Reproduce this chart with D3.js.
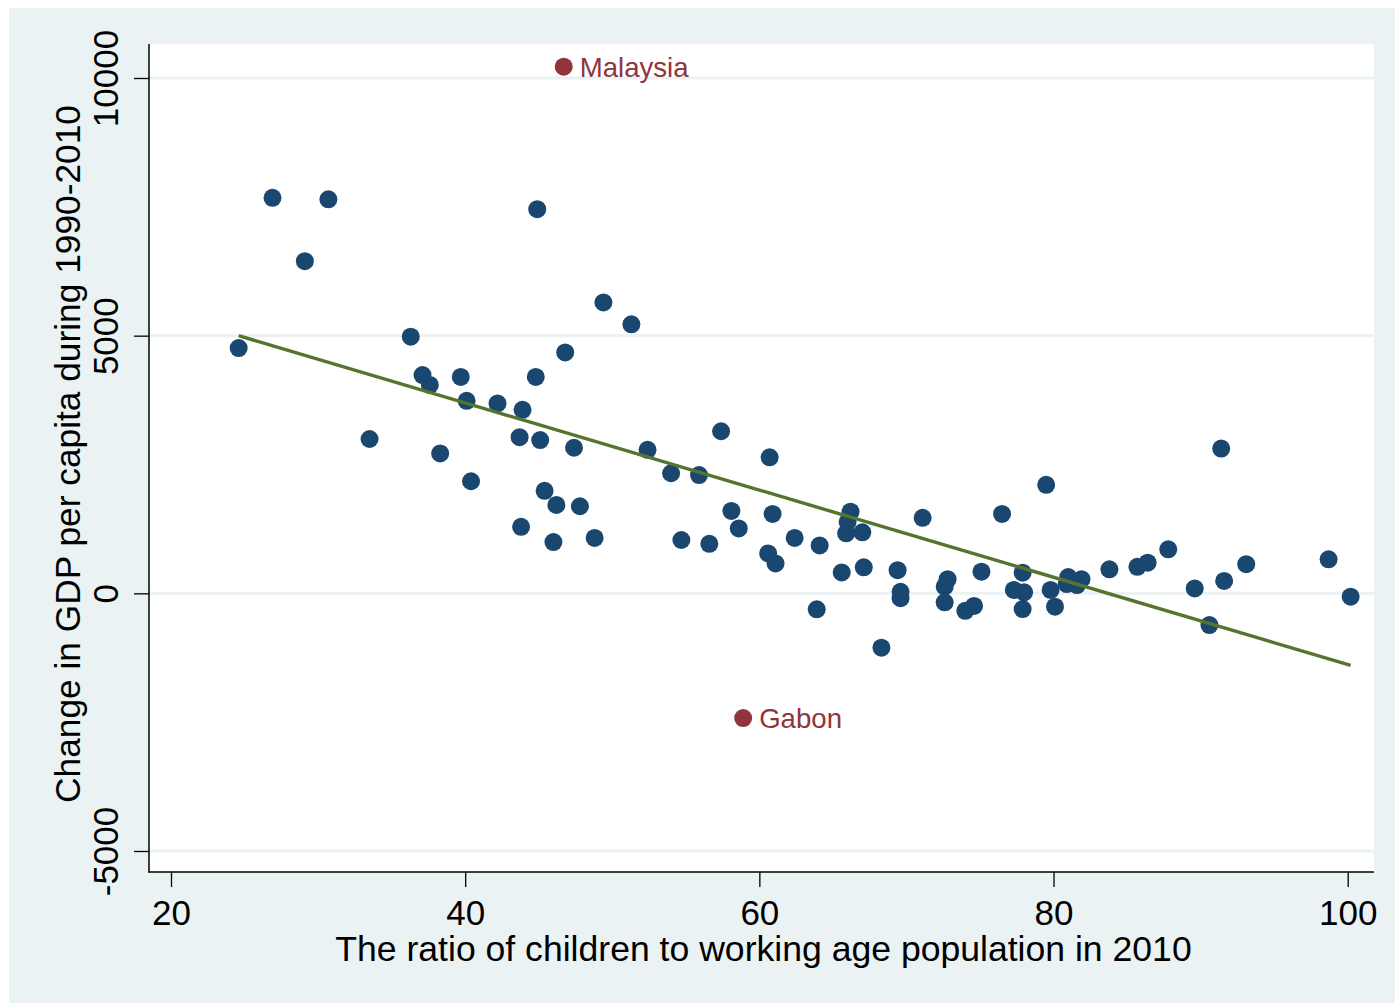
<!DOCTYPE html>
<html>
<head>
<meta charset="utf-8">
<script src="https://cdn.jsdelivr.net/npm/d3@7"></script>
<style>
  html, body { margin: 0; padding: 0; background: #ffffff; }
  svg { display: block; font-family: "Liberation Sans", Arial, Helvetica, sans-serif; }
</style>
</head>
<body>
<svg id="chart" width="1395" height="1003"></svg>
<script>
// Ratio of children to working-age population (2010) for each country
const childRatio = [
  24.6, 26.9, 30.7, 29.1, 36.3, 37.1, 37.6, 39.7, 40.1, 33.5,
  38.3, 40.4, 44.9, 49.4, 51.3, 46.8, 44.8, 42.2, 43.9, 43.7,
  45.1, 47.4, 52.4, 45.4, 46.2, 47.8, 43.8, 46.0, 48.8, 57.4,
  54.0, 55.9, 60.7, 58.1, 58.6, 60.9, 54.7, 56.6, 62.4, 64.1,
  60.6, 61.1, 66.2, 66.0, 65.9, 67.0, 65.6, 67.1, 63.9, 68.3,
  69.4, 69.6, 69.6, 71.1, 76.5, 79.5, 72.8, 72.6, 72.6, 74.0,
  74.6, 75.1, 77.9, 77.3, 78.0, 77.9, 79.8, 80.1, 81.0, 80.9,
  81.6, 81.9, 83.8, 85.7, 86.4, 87.8, 91.4, 89.6, 90.6, 91.6,
  93.1, 98.7, 100.2
];
// Change in GDP per capita, 1990-2010
const gdpChange = [
  4760, 7675, 7645, 6445, 4980, 4235, 4045, 4200, 3735, 2995,
  2715, 2175, 7455, 5645, 5220, 4675, 4200, 3685, 3560, 3030,
  2975, 2825, 2785, 1990, 1715, 1690, 1290, 995, 1075, 3145,
  2330, 2295, 2640, 1600, 1260, 1540, 1035, 960, 1075, 930,
  775, 580, 1585, 1385, 1165, 1185, 405, 505, -310, -1055,
  450, 30, -95, 1465, 1540, 2105, 275, 130, -175, -340,
  -245, 420, 400, 65, 20, -305, 65, -260, 315, 180,
  160, 275, 465, 515, 595, 855, 2810, 95, -615, 240,
  565, 660, -65
];

// Countries singled out with a label
const labeledNames = ["Malaysia", "Gabon"];
const labeledRatio = [46.7, 58.9];
const labeledGdp = [10220, -2420];

// Linear fit of GDP change on the child ratio
const fitIntercept = 7080;
const fitSlope = -84.6;

// Axis ticks
const xTicks = [20, 40, 60, 80, 100];
const yTicks = [-5000, 0, 5000, 10000];

const navy = "#1a476f";
const maroon = "#90353b";
const olive = "#55752f";
const gridBlue = "#eaf2f3";

const svg = d3.select("#chart");

// Outer graph region
svg.append("rect")
  .attr("x", 9).attr("y", 8)
  .attr("width", 1386).attr("height", 995)
  .attr("fill", gridBlue);

// Plot region
const plot = { left: 149, right: 1374, top: 44, bottom: 872 };
svg.append("rect")
  .attr("x", plot.left).attr("y", plot.top)
  .attr("width", plot.right - plot.left).attr("height", plot.bottom - plot.top)
  .attr("fill", "#ffffff");

const x = d3.scaleLinear().domain([20, 100]).range([171, 1347.7]);
const y = d3.scaleLinear().domain([-5000, 10000]).range([851, 78]);

// Horizontal gridlines
svg.append("g")
  .selectAll("line")
  .data(yTicks)
  .join("line")
  .attr("x1", plot.left).attr("x2", plot.right)
  .attr("y1", d => y(d)).attr("y2", d => y(d))
  .attr("stroke", gridBlue)
  .attr("stroke-width", 3);

const plainNumber = d => String(d);

// X axis
const xAxis = svg.append("g")
  .attr("transform", `translate(0,${plot.bottom})`)
  .call(d3.axisBottom(x).tickValues(xTicks).tickSize(15).tickPadding(13.2).tickFormat(plainNumber));
xAxis.select(".domain").remove();
xAxis.selectAll(".tick line").attr("stroke", "#000").attr("stroke-width", 1.3);
xAxis.selectAll(".tick text")
  .attr("font-size", 35)
  .attr("fill", "#000")
  .style("font-family", "'Liberation Sans', Arial, sans-serif");

// Y axis with rotated tick labels
const yAxis = svg.append("g")
  .attr("transform", `translate(${plot.left},0)`)
  .call(d3.axisLeft(y).tickValues(yTicks).tickSize(15).tickFormat(plainNumber));
yAxis.select(".domain").remove();
yAxis.selectAll(".tick line").attr("stroke", "#000").attr("stroke-width", 1.3);
yAxis.selectAll(".tick text")
  .attr("transform", "rotate(-90)")
  .attr("x", 0)
  .attr("y", -31)
  .attr("dy", null)
  .attr("text-anchor", "middle")
  .attr("font-size", 35)
  .attr("fill", "#000")
  .style("font-family", "'Liberation Sans', Arial, sans-serif");

// Axis lines
svg.append("line")
  .attr("x1", plot.left).attr("x2", plot.left)
  .attr("y1", plot.top).attr("y2", plot.bottom + 0.7)
  .attr("stroke", "#000").attr("stroke-width", 1.5);
svg.append("line")
  .attr("x1", plot.left).attr("x2", plot.right)
  .attr("y1", plot.bottom).attr("y2", plot.bottom)
  .attr("stroke", "#000").attr("stroke-width", 1.5);

// Scatter points
const points = childRatio.map((r, i) => ({ r, g: gdpChange[i] }));
svg.append("g")
  .selectAll("circle")
  .data(points)
  .join("circle")
  .attr("cx", d => x(d.r))
  .attr("cy", d => y(d.g))
  .attr("r", 9)
  .attr("fill", navy);

// Labelled outliers
const labeled = labeledNames.map((n, i) => ({ n, r: labeledRatio[i], g: labeledGdp[i] }));
const lab = svg.append("g");
lab.selectAll("circle")
  .data(labeled)
  .join("circle")
  .attr("cx", d => x(d.r))
  .attr("cy", d => y(d.g))
  .attr("r", 9)
  .attr("fill", maroon);
lab.selectAll("text")
  .data(labeled)
  .join("text")
  .attr("x", d => x(d.r) + 16)
  .attr("y", d => y(d.g))
  .attr("dy", "0.36em")
  .attr("font-size", 27.6)
  .attr("fill", maroon)
  .text(d => d.n);

// Fitted line across the range of the data
const xExtent = d3.extent(childRatio.concat(labeledRatio));
const fitData = xExtent.map(v => ({ r: v, g: fitIntercept + fitSlope * v }));
svg.append("path")
  .datum(fitData)
  .attr("d", d3.line().x(d => x(d.r)).y(d => y(d.g)))
  .attr("fill", "none")
  .attr("stroke", olive)
  .attr("stroke-width", 3.4);

// Axis titles
svg.append("text")
  .attr("x", (plot.left + plot.right) / 2 + 2)
  .attr("y", 961)
  .attr("text-anchor", "middle")
  .attr("font-size", 35.6)
  .attr("fill", "#000")
  .text("The ratio of children to working age population in 2010");

svg.append("text")
  .attr("transform", `translate(80,${(plot.top + plot.bottom) / 2 - 4}) rotate(-90)`)
  .attr("text-anchor", "middle")
  .attr("font-size", 35.3)
  .attr("fill", "#000")
  .text("Change in GDP per capita during 1990-2010");
</script>
</body>
</html>
